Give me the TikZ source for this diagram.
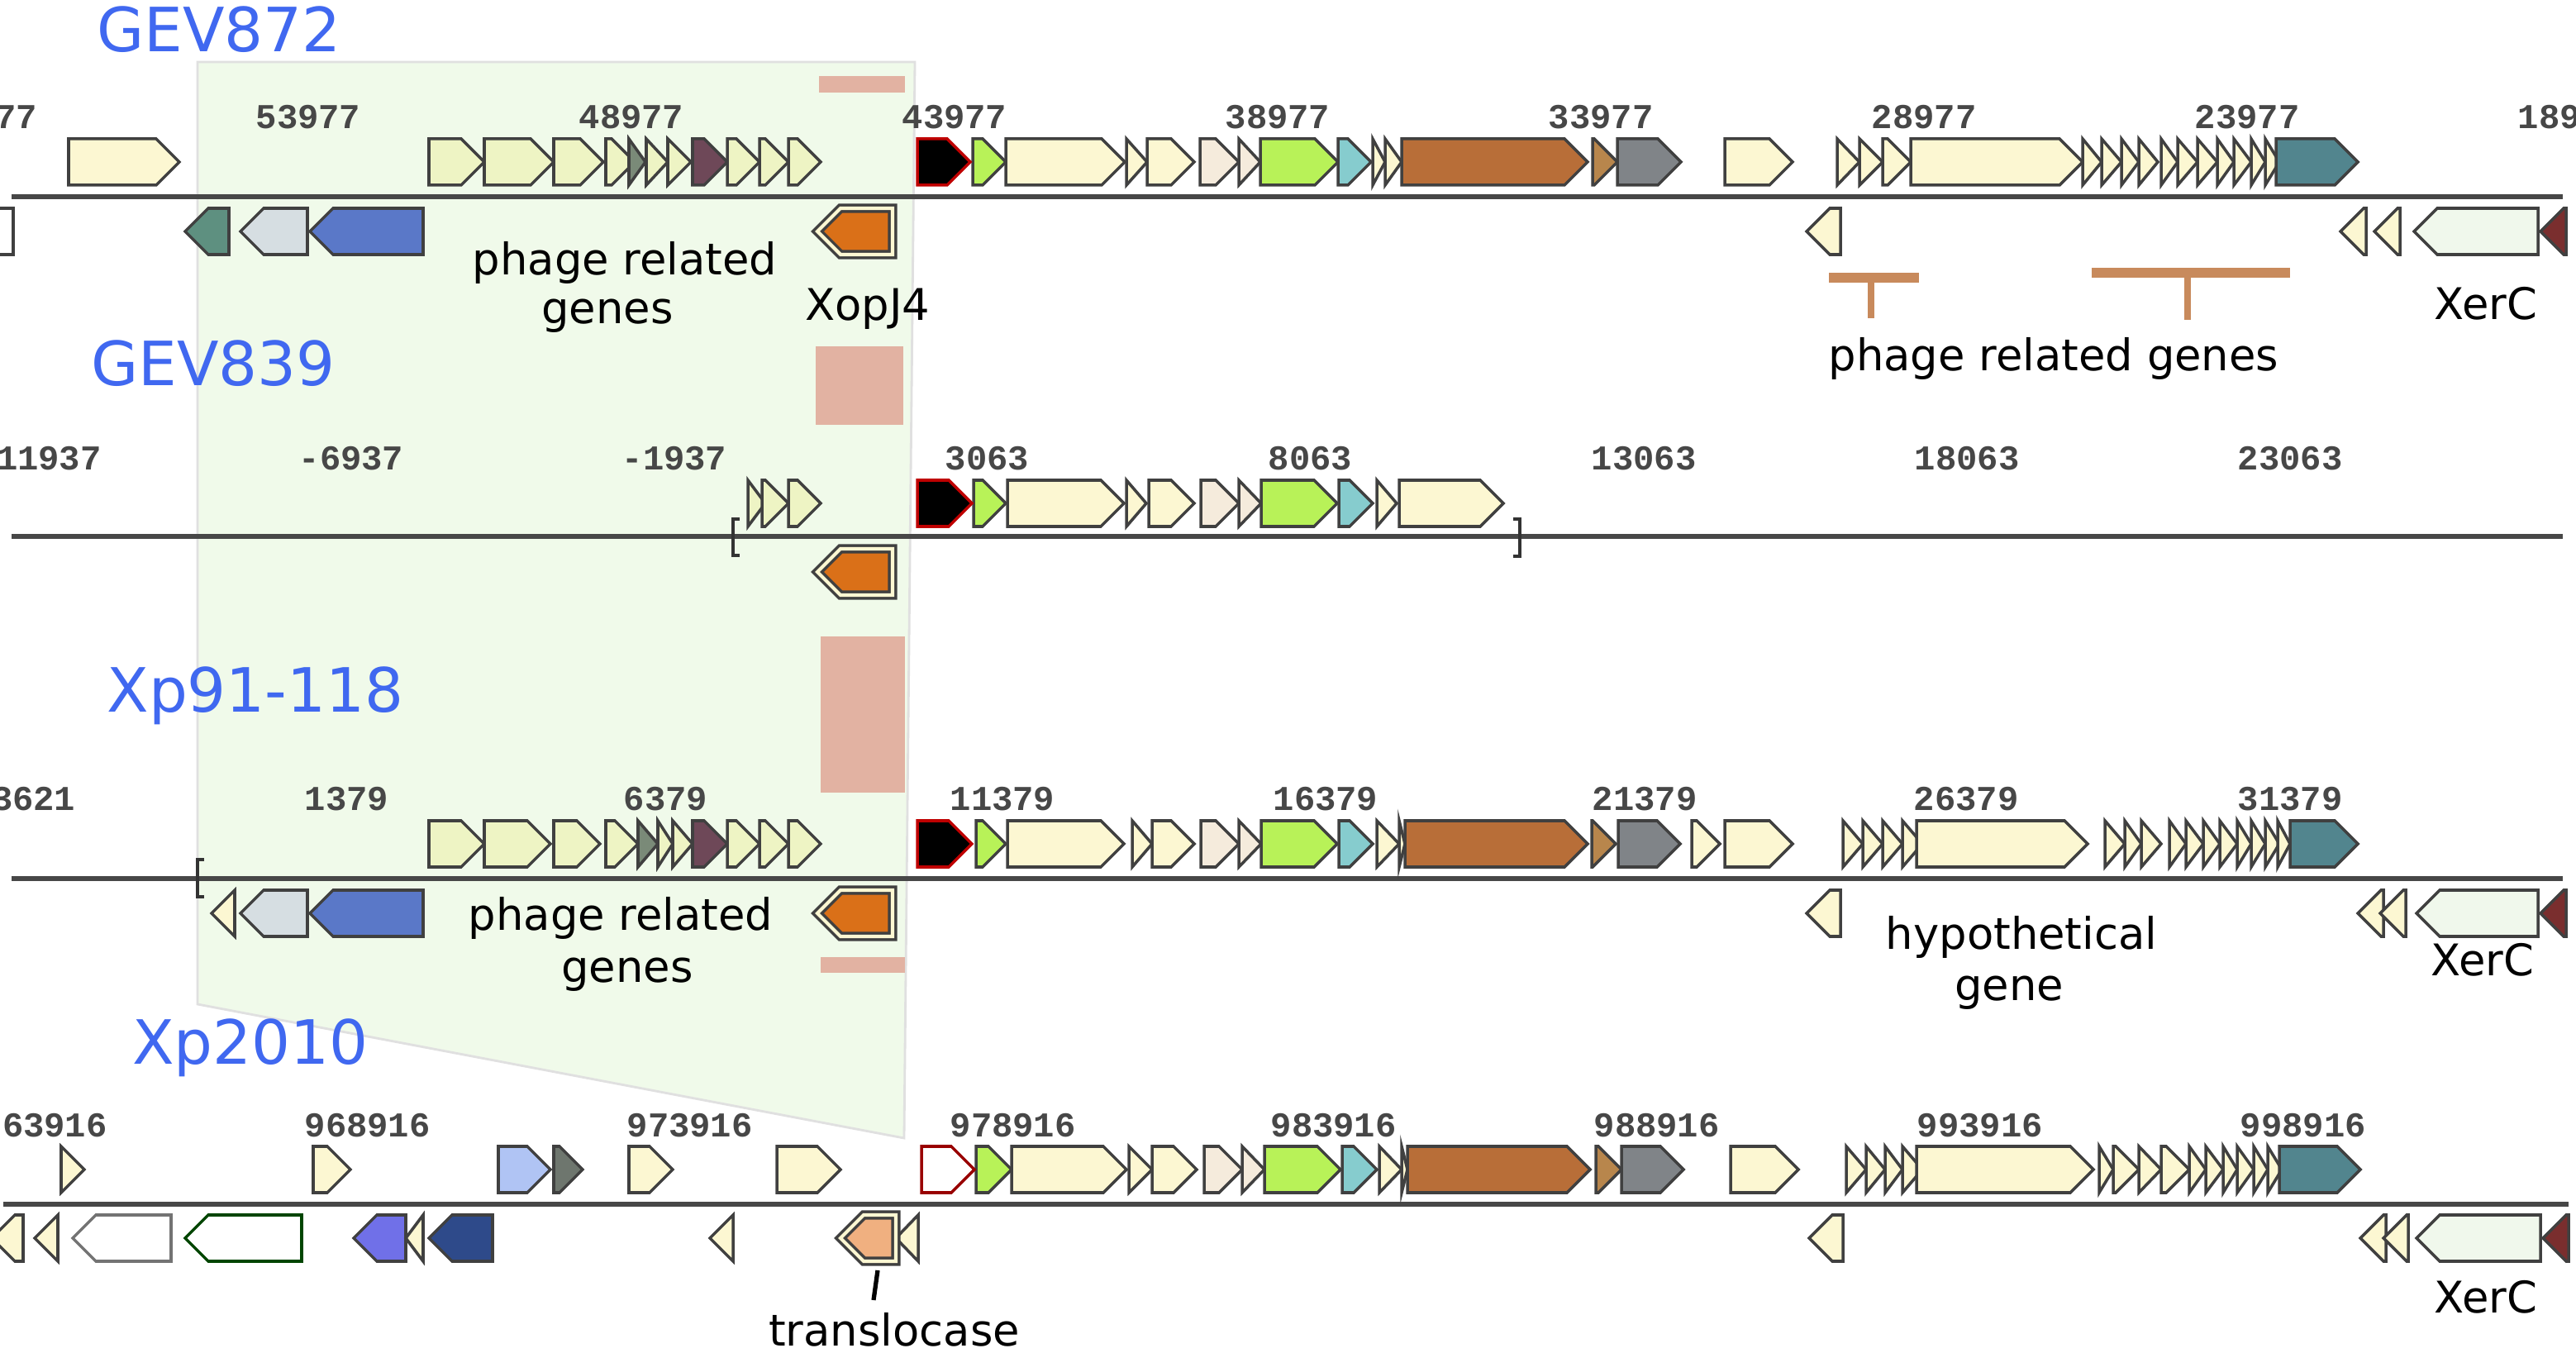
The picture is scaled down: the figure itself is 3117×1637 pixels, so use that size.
\documentclass[tikz,border=0pt]{standalone}
\usepackage{fontspec}
\setmainfont{DejaVu Sans}
\newfontfamily\tickfont{Liberation Mono}

\definecolor{cream}{RGB}{252,247,210}
\definecolor{phg}{RGB}{238,244,196}
\definecolor{beige}{RGB}{245,235,220}
\definecolor{lime}{RGB}{184,242,88}
\definecolor{teall}{RGB}{134,204,206}
\definecolor{brn}{RGB}{184,110,56}
\definecolor{tanb}{RGB}{184,134,76}
\definecolor{gry}{RGB}{128,132,136}
\definecolor{teald}{RGB}{82,133,142}
\definecolor{tealg}{RGB}{94,144,128}
\definecolor{gblue}{RGB}{214,222,226}
\definecolor{blu}{RGB}{90,120,200}
\definecolor{orng}{RGB}{218,112,24}
\definecolor{purp}{RGB}{110,72,88}
\definecolor{dgg}{RGB}{122,138,120}
\definecolor{pgrn}{RGB}{240,248,236}
\definecolor{dred}{RGB}{122,46,46}
\definecolor{lblue}{RGB}{176,196,244}
\definecolor{viol}{RGB}{112,112,232}
\definecolor{navyb}{RGB}{46,74,138}
\definecolor{peach}{RGB}{240,176,128}
\definecolor{dgrey}{RGB}{110,118,110}
\definecolor{salmon}{RGB}{226,178,162}
\definecolor{tbar}{RGB}{200,138,92}
\definecolor{shade}{RGB}{240,250,234}
\definecolor{strainblue}{RGB}{64,104,240}

% forward / reverse gene arrows: [opts]{centre y}{x1}{x2}{fill}
\newcommand{\fgene}[5][]{%
  \pgfmathsetmacro{\headlen}{min(28,(#4)-(#3))}%
  \filldraw[gene,fill=#5,#1] (#3,{#2-28}) -- ({#4-\headlen},{#2-28}) -- (#4,#2)
    -- ({#4-\headlen},{#2+28}) -- (#3,{#2+28}) -- cycle;}
\newcommand{\rgene}[5][]{%
  \pgfmathsetmacro{\headlen}{min(28,(#4)-(#3))}%
  \filldraw[gene,fill=#5,#1] (#4,{#2-28}) -- ({#3+\headlen},{#2-28}) -- (#3,#2)
    -- ({#3+\headlen},{#2+28}) -- (#4,{#2+28}) -- cycle;}

\begin{document}
\begin{tikzpicture}[x=0.01cm, y=-0.01cm,
gene/.style={draw=black!75, line width=1pt, line join=miter},
backbone/.style={draw=black!72, line width=1.9pt},
bracket/.style={draw=black!80, line width=1pt},
strain/.style={text=strainblue, font=\fontsize{21}{25}\selectfont, anchor=base, inner sep=0pt},
genelab/.style={font=\fontsize{15}{18}\selectfont, anchor=base, inner sep=0pt},
ticklab/.style={font=\tickfont\bfseries\fontsize{12}{14}\selectfont, text=black!72, anchor=west, inner sep=0pt},
pinkbar/.style={fill=salmon},
tmark/.style={draw=tbar},
]
\useasboundingbox (0,0) rectangle (3117,1637);
\fill[white] (0,0) rectangle (3117,1637);
\clip (0,0) rectangle (3117,1637);

% conserved region
\filldraw[fill=shade, draw=black!12, line width=0.8pt] (239,75) -- (1107,75) -- (1094,1377) -- (239,1215) -- cycle;
\fill[pinkbar] (991,92) rectangle (1095,112);
\fill[pinkbar] (987,419) rectangle (1093,514);
\fill[pinkbar] (993,770) rectangle (1095,959);
\fill[pinkbar] (993,1158) rectangle (1095,1177);

% backbones
\draw[backbone] (14,238) -- (3101,238);
\draw[backbone] (14,649) -- (3101,649);
\draw[backbone] (14,1063) -- (3101,1063);
\draw[backbone] (4,1457) -- (3108,1457);
\draw[bracket] (895,628) -- (887,628) -- (887,672) -- (895,672);
\draw[bracket] (1831,628) -- (1839,628) -- (1839,673) -- (1831,673);
\draw[bracket] (247,1040) -- (239,1040) -- (239,1085) -- (247,1085);

% ticks
\foreach \x/\t [count=\i] in {-82/58977, 309/53977, 700/48977, 1091/43977, 1482/38977, 1873/33977, 2264/28977, 2655/23977, 3046/18977}
  \node[ticklab] (ta\i) at (\x,142) {\t};
\foreach \x/\t [count=\i] in {-30/-11937, 361/-6937, 752/-1937, 1143/3063, 1534/8063, 1925/13063, 2316/18063, 2707/23063}
  \node[ticklab] (tb\i) at (\x,555) {\t};
\foreach \x/\t [count=\i] in {-36/-3621, 368/1379, 754/6379, 1149/11379, 1540/16379, 1926/21379, 2315/26379, 2707/31379}
  \node[ticklab] (tc\i) at (\x,967) {\t};
\foreach \x/\t [count=\i] in {-23/963916, 368/968916, 758/973916, 1149/978916, 1537/983916, 1928/988916, 2319/993916, 2710/998916}
  \node[ticklab] (td\i) at (\x,1362) {\t};

% GEV872
\foreach \a/\b/\c in {83/217/cream, 519/586/phg, 586/670/phg, 670/730/phg, 733/768/phg, 761/781/dgg, 782/808/phg, 808/836/phg, 838/880/purp, 880/919/phg, 919/954/phg, 954/993/phg, 1177/1217/lime, 1217/1361/cream, 1363/1388/cream, 1388/1445/cream, 1452/1499/beige, 1499/1525/beige, 1525/1619/lime, 1619/1659/teall, 1661/1676/cream, 1676/1696/cream, 1696/1921/brn, 1927/1957/tanb, 1957/2034/gry, 2087/2169/cream, 2223/2250/cream, 2250/2278/cream, 2278/2312/cream, 2312/2520/cream, 2520/2543/cream, 2543/2567/cream, 2567/2588/cream, 2588/2611/cream, 2615/2635/cream, 2635/2659/cream, 2659/2683/cream, 2683/2703/cream, 2703/2724/cream, 2724/2741/cream, 2741/2758/cream, 2754/2853/teald}
  {\fgene{196}{\a}{\b}{\c}}
\fgene[draw=red!75!black]{196}{1110}{1174}{black}
\foreach \a/\b/\c in {-40/16/white, 224/277/tealg, 291/372/gblue, 375/512/blu, 2186/2227/cream, 2832/2863/cream, 2873/2904/cream, 2921/3071/pgrn, 3074/3105/dred}
  {\rgene{280}{\a}{\b}{\c}}
\rgene[double=cream, double distance=1.2pt]{280}{989}{1080}{orng}

% GEV839
\foreach \a/\b/\c in {905/926/phg, 922/954/phg, 954/993/phg, 1178/1217/lime, 1219/1360/cream, 1363/1387/cream, 1390/1445/cream, 1453/1499/beige, 1499/1526/beige, 1526/1618/lime, 1620/1661/teall, 1666/1690/cream, 1693/1819/cream}
  {\fgene{609}{\a}{\b}{\c}}
\fgene[draw=red!75!black]{609}{1110}{1176}{black}
\rgene[double=cream, double distance=1.2pt]{692}{989}{1080}{orng}

% Xp91-118
\foreach \a/\b/\c in {519/586/phg, 586/666/phg, 670/726/phg, 733/772/phg, 772/796/dgg, 796/814/phg, 814/838/phg, 838/880/purp, 880/919/phg, 919/954/phg, 954/993/phg, 1181/1217/lime, 1219/1360/cream, 1370/1394/cream, 1394/1445/cream, 1453/1499/beige, 1499/1526/beige, 1526/1618/lime, 1620/1661/teall, 1666/1693/cream, 1693/1700/cream, 1700/1921/brn, 1926/1955/tanb, 1958/2033/gry, 2047/2081/cream, 2087/2169/cream, 2230/2254/cream, 2254/2278/cream, 2278/2302/cream, 2302/2326/cream, 2319/2526/cream, 2547/2571/cream, 2571/2591/cream, 2591/2615/cream, 2625/2645/cream, 2645/2666/cream, 2666/2686/cream, 2686/2707/cream, 2707/2724/cream, 2724/2741/cream, 2741/2758/cream, 2756/2771/cream, 2771/2853/teald}
  {\fgene{1021}{\a}{\b}{\c}}
\fgene[draw=red!75!black]{1021}{1110}{1176}{black}
\foreach \a/\b/\c in {256/284/cream, 291/372/gblue, 375/512/blu, 2186/2227/cream, 2853/2884/cream, 2880/2911/cream, 2924/3071/pgrn, 3074/3105/dred}
  {\rgene{1105}{\a}{\b}{\c}}
\rgene[double=cream, double distance=1.2pt]{1105}{989}{1080}{orng}

% Xp2010
\foreach \a/\b/\c in {74/102/cream, 379/424/cream, 603/666/lblue, 670/705/dgrey, 761/814/cream, 940/1017/cream, 1181/1224/lime, 1224/1363/cream, 1366/1394/cream, 1394/1448/cream, 1457/1503/beige, 1503/1530/beige, 1530/1622/lime, 1624/1666/teall, 1669/1696/cream, 1696/1703/cream, 1703/1924/brn, 1931/1962/tanb, 1962/2037/gry, 2094/2176/cream, 2234/2258/cream, 2258/2281/cream, 2281/2302/cream, 2302/2326/cream, 2319/2533/cream, 2540/2557/cream, 2557/2588/cream, 2588/2615/cream, 2615/2649/cream, 2649/2669/cream, 2669/2690/cream, 2690/2707/cream, 2707/2727/cream, 2727/2744/cream, 2744/2761/cream, 2758/2856/teald}
  {\fgene{1415}{\a}{\b}{\c}}
\fgene[draw=red!60!black]{1415}{1115}{1179}{white}
\foreach \a/\b/\c in {-10/28/cream, 42/70/cream, 428/491/viol, 491/512/cream, 519/596/navyb, 859/887/cream, 1084/1111/cream, 2189/2230/cream, 2856/2887/cream, 2884/2914/cream, 2924/3074/pgrn, 3077/3108/dred}
  {\rgene{1498}{\a}{\b}{\c}}
\rgene[double=cream, double distance=1.2pt]{1498}{1017}{1084}{peach}
\rgene[draw=black!55]{1498}{88}{207}{white}
\rgene[draw=black!55!green!60!black]{1498}{224}{365}{white}

% phage markers
\draw[tmark, line width=3.4pt] (2213,336) -- (2322,336);
\draw[tmark, line width=2.3pt] (2264,342) -- (2264,385);
\draw[tmark, line width=3.2pt] (2531,330) -- (2771,330);
\draw[tmark, line width=2.3pt] (2647,336) -- (2647,387);
\draw[line width=1.5pt] (1062,1537) -- (1057,1573);

% strain names
\node[strain] (gev872) at (265,63) {GEV872};
\node[strain] (gev839) at (258,467) {GEV839};
\node[strain] (xp91) at (309,862) {Xp91-118};
\node[strain] (xp2010) at (303,1287) {Xp2010};

% gene labels
\node[genelab] (phA) at (756,333) {phage related};
\node[genelab] (phAb) at (735,392) {genes};
\node[genelab] (xopj) at (1050,388) {XopJ4};
\node[genelab] (phB) at (2485,449) {phage related genes};
\node[genelab] (xerA) at (3008,387) {XerC};
\node[genelab] (phC) at (751,1125) {phage related};
\node[genelab] (phCb) at (759,1188) {genes};
\node[genelab] (hyp) at (2446,1148) {hypothetical};
\node[genelab] (hypb) at (2431,1210) {gene};
\node[genelab] (xerB) at (3004,1180) {XerC};
\node[genelab] (transl) at (1082,1628) {translocase};
\node[genelab] (xerD) at (3008,1588) {XerC};
\end{tikzpicture}
\end{document}
